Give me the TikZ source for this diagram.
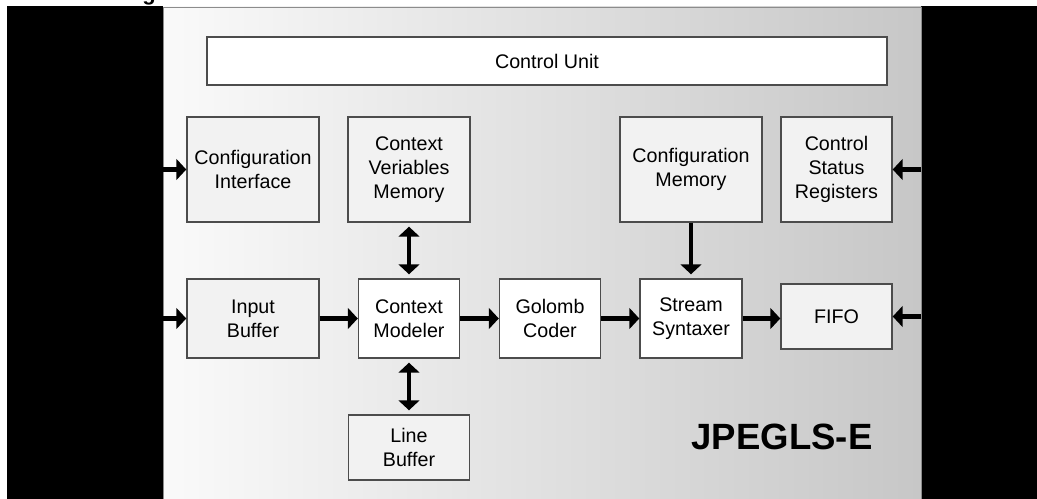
\documentclass[tikz,border=0pt]{standalone}
\usepackage{fontspec}
\setmainfont{Liberation Sans}
\usetikzlibrary{arrows.meta,positioning}

\begin{document}
\begin{tikzpicture}[>={Triangle[length=0.25cm,width=0.52cm]},thin]
\tikzstyle{blk}=[draw=black!70,line width=1pt,fill=black!5,align=center,inner sep=0pt,font=\fontsize{14}{17}\selectfont]
\tikzstyle{wblk}=[blk,fill=white]
\tikzstyle{sig}=[->,line width=3.5pt]
\tikzstyle{bus}=[<->,line width=3.5pt,shorten <=0.1cm,shorten >=0.1cm]

% frame and panel
\useasboundingbox (0,0) rectangle (25.925,12.475);
\fill[black] (0.175,0) rectangle (25.925,12.325);
\shade[left color=black!2,right color=black!22,draw=black!45,line width=0.6pt] (4.075,0) rectangle (23.025,12.3);
\coordinate (pnw) at (4.075,12.3);
\coordinate (pse) at (23.025,0);
\node[anchor=base,font=\bfseries\fontsize{15.6}{18}\selectfont] (ttl) at (3.725,12.45) {g};

\node[wblk,minimum width=17cm,minimum height=1.2cm] (cu) at (13.675,10.95) {Control Unit};
\node[blk,minimum width=3.3cm,minimum height=2.625cm] (ci) at (6.325,8.2375) {Configuration\\Interface};
\node[blk,minimum width=3.05cm,minimum height=2.625cm] (cvm) [right of=ci,node distance=3.9cm] {Context\\Veriables\\Memory};
\node[blk,minimum width=3.55cm,minimum height=2.625cm] (cmem) [right of=cvm,node distance=7.05cm] {Configuration\\Memory};
\node[blk,minimum width=2.775cm,minimum height=2.625cm] (csr) [right of=cmem,node distance=3.6375cm] {Control\\Status\\Registers};
\node[blk,minimum width=3.3cm,minimum height=1.975cm] (ib) [below of=ci,node distance=3.725cm] {Input\\Buffer};
\node[wblk,minimum width=2.525cm,minimum height=1.975cm] (cm) [below of=cvm,node distance=3.725cm] {Context\\Modeler};
\node[wblk,minimum width=2.525cm,minimum height=1.975cm] (gc) [right of=cm,node distance=3.525cm] {Golomb\\Coder};
\node[wblk,minimum width=2.55cm,minimum height=1.975cm] (ss) [below of=cmem,node distance=3.725cm] {Stream\\Syntaxer};
\node[blk,minimum width=2.775cm,minimum height=1.625cm] (fifo) [below of=csr,node distance=3.675cm] {FIFO};
\node[blk,minimum width=3.025cm,minimum height=1.625cm] (lb) [below of=cm,node distance=3.225cm] {Line\\Buffer};
\node[font=\bfseries\fontsize{26}{30}\selectfont] (name) at (19.55,1.55) {JPEGLS-E};

\coordinate (inci) at (ci.west -| pnw);
\coordinate (inib) at (ib.west -| pnw);
\coordinate (incsr) at (csr.east -| pse);
\coordinate (infifo) at (fifo.east -| pse);

\draw[sig] (inci) -- (ci.west);
\draw[sig] (inib) -- (ib.west);
\draw[sig] (incsr) -- (csr.east);
\draw[sig] (infifo) -- (fifo.east);
\draw[sig] (ib) -- (cm);
\draw[sig] (cm) -- (gc);
\draw[sig] (gc) -- (ss);
\draw[sig] (ss.east) -- (ss.east -| fifo.west);
\draw[sig,shorten >=0.1cm] (cmem) -- (ss);
\draw[bus] (cvm) -- (cm);
\draw[bus] (cm) -- (lb);
\end{tikzpicture}
\end{document}
